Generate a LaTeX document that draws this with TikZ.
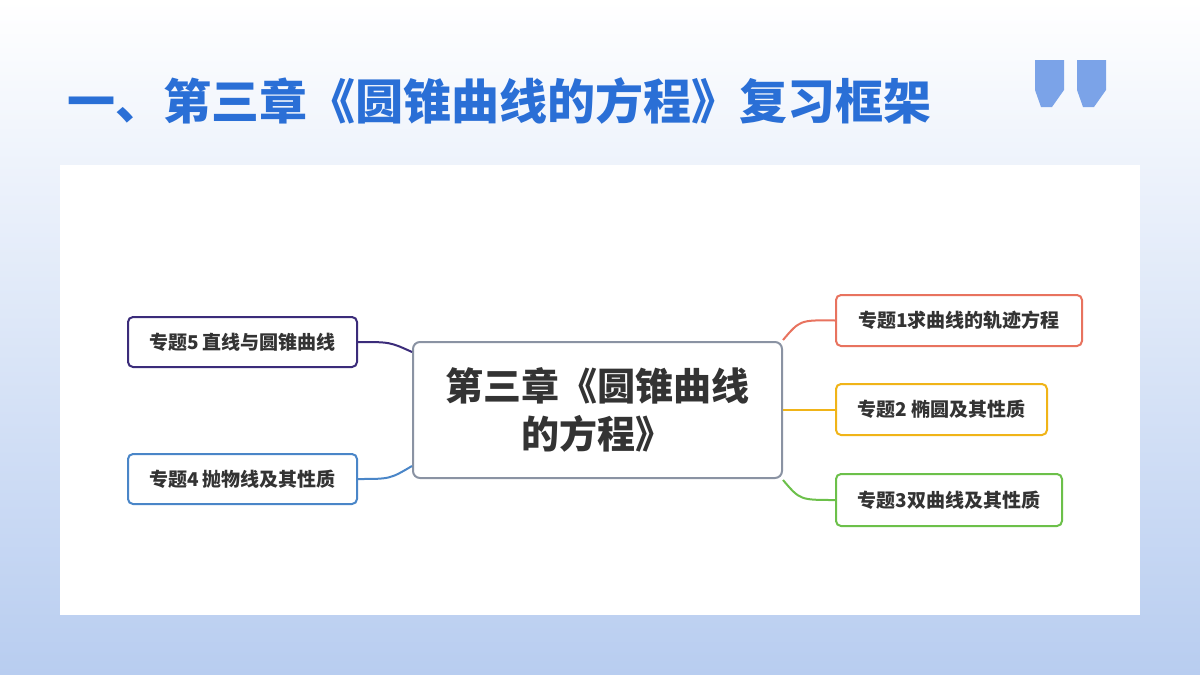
\documentclass[tikz,border=0pt]{standalone}
\usepackage{fontspec}
\setmainfont{Noto Sans CJK SC}
\begin{document}
\begin{tikzpicture}[x=1pt,y=-1pt,
 topic/.style={draw=#1,line width=2pt,rounded corners=5pt,fill=white,inner sep=0pt,font=\fontsize{19}{21}\selectfont\bfseries,text=black!80},
 link/.style={draw=#1,line width=2pt}]
\definecolor{c5}{HTML}{3B2C7A}\definecolor{c4}{HTML}{4A86C8}
\definecolor{c1}{HTML}{E8735F}\definecolor{c2}{HTML}{F0B418}\definecolor{c3}{HTML}{6CC04A}
\definecolor{bgb}{RGB}{184,205,240}\definecolor{titleb}{RGB}{42,111,214}
\definecolor{quoteb}{RGB}{123,163,232}\definecolor{cgray}{RGB}{138,147,163}
\useasboundingbox (0,0) rectangle (1200,675);
\shade[top color=white,bottom color=bgb] (0,0) rectangle (1200,675);
\fill[white] (60,165) rectangle (1140,615);
\node[anchor=west,font=\fontsize{48}{52}\selectfont\bfseries,text=titleb] (title) at (64,101) {一、第三章《圆锥曲线的方程》复习框架};
\fill[quoteb] (1035,60) rectangle (1064,90) (1035,90) -- (1064,90) -- (1052,107) -- (1041,107) -- cycle;
\fill[quoteb] (1077,60) rectangle (1106,90) (1077,90) -- (1106,90) -- (1094,107) -- (1083,107) -- cycle;
\node[draw=cgray,line width=2pt,rounded corners=7pt,fill=white,minimum width=369pt,minimum height=136pt,align=center,font=\fontsize{38}{48}\selectfont\bfseries,text=black!80] (c) at (597.5,410) {第三章《圆锥曲线\\的方程》};
\node[topic=c5,minimum width=229pt,minimum height=50pt] (t5) at (242.5,342) {专题5 直线与圆锥曲线};
\node[topic=c4,minimum width=229pt,minimum height=50pt] (t4) at (242.5,479) {专题4 抛物线及其性质};
\node[topic=c1,minimum width=246pt,minimum height=51pt] (t1) at (959,320.5) {专题1求曲线的轨迹方程};
\node[topic=c2,minimum width=211pt,minimum height=51pt] (t2) at (941.5,409.5) {专题2 椭圆及其性质};
\node[topic=c3,minimum width=226pt,minimum height=52pt] (t3) at (949,500) {专题3双曲线及其性质};
\draw[link=c5] (t5.east) .. controls (390,342) .. (c.north west |- 0,352);
\draw[link=c4] (t4.east) .. controls (390,479) .. (c.north west |- 0,466);
\draw[link=c1] (t1.west) .. controls (800,320) .. (c.north east |- 0,340);
\draw[link=c2] (t2.west) -- (t2.west -| c.east);
\draw[link=c3] (t3.west) .. controls (800,500) .. (c.north east |- 0,480);
\end{tikzpicture}
\end{document}
